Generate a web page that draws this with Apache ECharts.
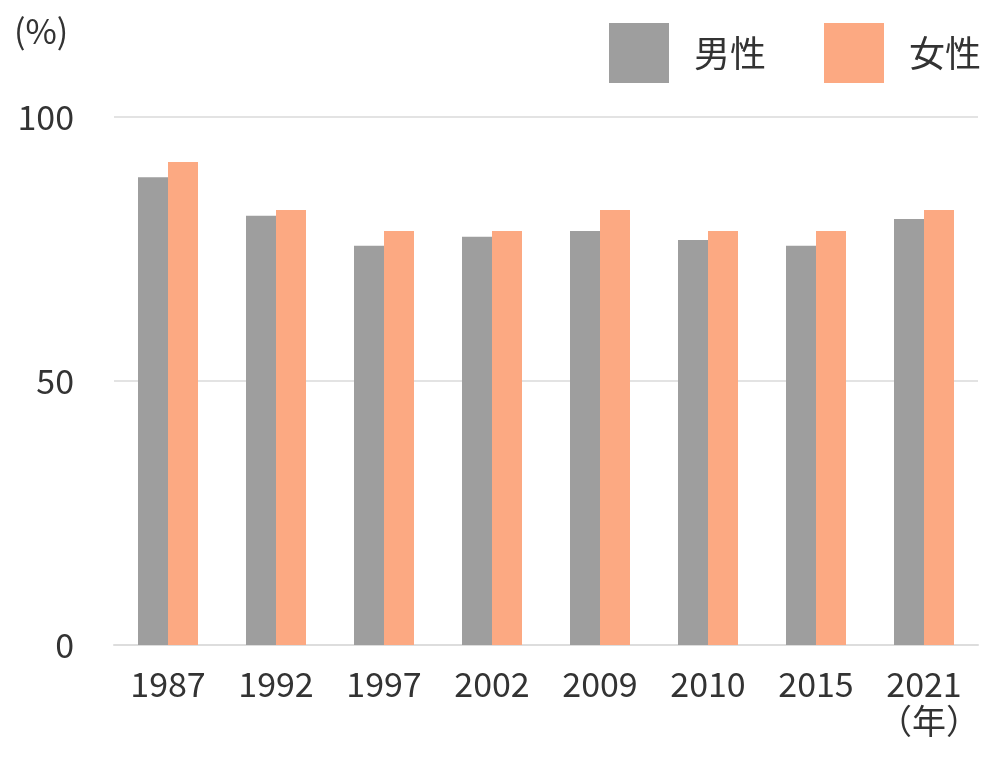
<!DOCTYPE html>
<html><head><meta charset="utf-8">
<script src="https://cdn.jsdelivr.net/npm/echarts@6/dist/echarts.min.js"></script>
<style>html,body{margin:0;padding:0;background:#fff}#c{width:990px;height:762px}</style>
</head><body><div id="c"></div>
<script>
var years = ['1987', '1992', '1997', '2002', '2009', '2010', '2015', '2021'];
var male = [88.6, 81.3, 75.6, 77.3, 78.4, 76.7, 75.6, 80.7];
var female = [91.5, 82.4, 78.4, 78.4, 82.4, 78.4, 78.4, 82.4];
var yTicks = [0, 50, 100];

var font = '"Noto Sans CJK JP", "Noto Sans", sans-serif';
var myChart = echarts.init(document.getElementById('c'));
var option = {
  textStyle: { fontFamily: font },
  legend: {
    right: 4, top: 18, icon: 'rect',
    itemWidth: 60, itemHeight: 60, itemGap: 58,
    textStyle: { fontSize: 36, color: '#333', fontFamily: font, padding: [0, 0, 0, 20] },
    data: ['男性', '女性']
  },
  graphic: [
    { type: 'text', left: 14, top: 14, style: { text: '(%)', fontSize: 34, fill: '#333', fontFamily: font } },
    { type: 'text', left: 878, top: 704, style: { text: '（年）', fontSize: 34, fill: '#333', fontFamily: font } }
  ],
  grid: { left: 114, right: 12, top: 117, bottom: 117 },
  xAxis: {
    type: 'category', data: years,
    axisLine: { lineStyle: { color: '#ddd', width: 2 } },
    axisTick: { show: false },
    axisLabel: { fontSize: 34, color: '#333', margin: 22, fontFamily: font }
  },
  yAxis: {
    type: 'value', min: 0, max: 100, interval: 50,
    axisLine: { show: false }, axisTick: { show: false },
    splitLine: { lineStyle: { color: '#e3e3e3', width: 2 } },
    axisLabel: { fontSize: 34, color: '#333', margin: 40, fontFamily: font,
      formatter: function (v) { return yTicks.indexOf(v) >= 0 ? v : ''; } }
  },
  series: [
    { name: '男性', type: 'bar', data: male, barWidth: 30, barGap: '0%', itemStyle: { color: '#9e9e9e' } },
    { name: '女性', type: 'bar', data: female, barWidth: 30, itemStyle: { color: '#fca982' } }
  ]
};
myChart.setOption(option);
</script></body></html>
